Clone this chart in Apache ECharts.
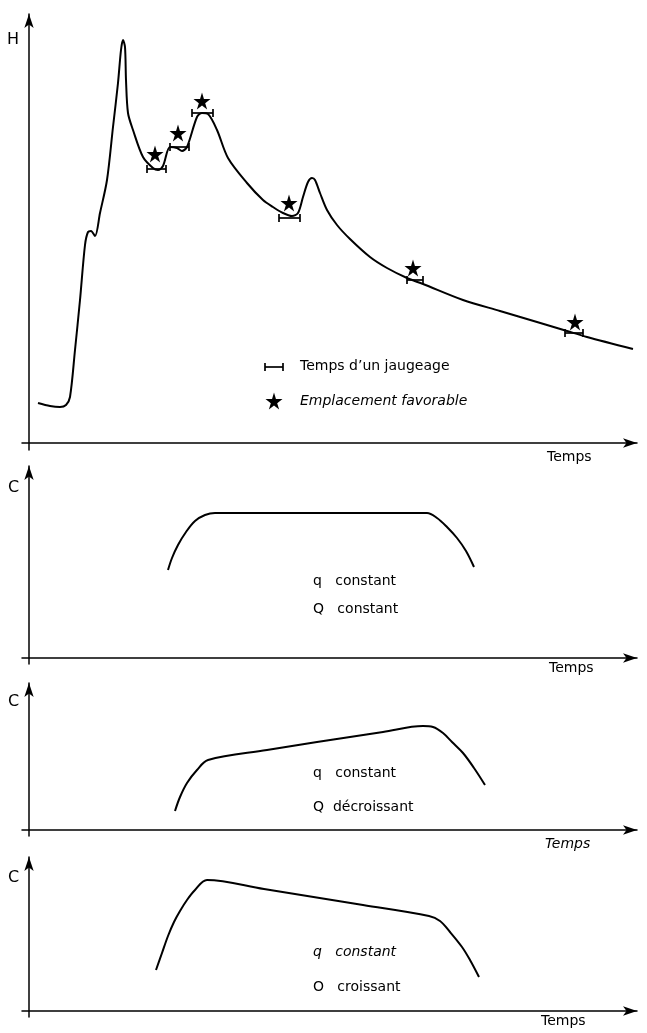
<!DOCTYPE html>
<html><head><meta charset="utf-8">
<script src="https://cdn.jsdelivr.net/npm/echarts@6/dist/echarts.min.js"></script>
<style>html,body{margin:0;padding:0;background:#fff}#c{width:647px;height:1033px}</style>
</head><body><div id="c"></div>
<script>
// ---- Panel 1 : hydrogramme H(t) ----
const hTime  = [9,21,31,37,41,46,51,56,59,62,66,71,78,84,89,92,94,96,97,99,104,114,124,129,134,141,148,153,158,168,173,179,188,199,218,234,244,254,263,269,274,279,283,286,291,298,308,321,341,358,378,394,434,471,508,538,558,604];
const hLevel = [40,37,36,38,46,93,143,198,211,212,207,230,263,316,360,393,403,396,363,330,313,286,275,273,277,296,295,292,296,326,330,329,313,285,260,243,236,230,227,230,246,261,265,263,250,233,218,204,186,175,165,159,143,132,121,112,106,94];
// emplacements favorables (étoiles)
const starTime  = [126,149,173,260,384,546];
const starLevel = [289,310,342,240,175,121];
// durée d'un jaugeage (début, fin, niveau)
const gaugeStart = [118,141,163,250,378,536];
const gaugeEnd   = [137,160,184,271,394,554];
const gaugeLevel = [274,296,330,225,163,110];
// légende
const legendGauge = [236,254,76];
const legendStar  = [245,42];

// ---- Panels 2-4 : concentration C(t) ----
const c1Time = [139,143,149,157,166,176,186,398,408,418,428,437,445];
const c1Conc = [88,100,113,126,137,143,145,145,140,131,120,107,91];
const c2Time = [146,151,158,168,179,238,288,354,394,404,414,423,434,445,456];
const c2Conc = [19,33,47,60,70,80,88,98,104,103,97,88,77,62,45];
const c3Time = [127,133,139,145,151,158,166,178,235,334,400,411,421,433,441,450];
const c3Conc = [41,58,75,89,100,111,121,131,122,106,95,90,79,64,51,34];

const axisNames = ['H','C','C','C'];
const timeName = 'Temps';
const panelNotes = [
  ['Temps d\u2019un jaugeage','Emplacement favorable'],
  ['q   constant','Q   constant'],
  ['q   constant','Q  d\u00e9croissant'],
  ['q   constant','O   croissant']
];

const zip = (a,b) => a.map((v,i)=>[v,b[i]]);
const INK = '#000';
const FONT = 'DejaVu Sans';

const grids = [
  {left:22, top:14,  width:615, height:436, yMax:429},
  {left:22, top:466, width:615, height:198, yMax:192},
  {left:22, top:683, width:615, height:153, yMax:147},
  {left:22, top:857, width:615, height:160, yMax:154}
];

const chart = echarts.init(document.getElementById('c'), null, {renderer:'canvas'});

const axisLine = {onZero:true, symbol:['none','arrow'], symbolSize:[7,14], lineStyle:{color:INK, width:1.5}};
const xAxes = grids.map((g,i)=>({gridIndex:i, type:'value', min:-7, max:608,
  axisLine, axisTick:{show:false}, axisLabel:{show:false}, splitLine:{show:false}}));
const yAxes = grids.map((g,i)=>({gridIndex:i, type:'value', min:(i===0?-7:-6), max:g.yMax,
  axisLine, axisTick:{show:false}, axisLabel:{show:false}, splitLine:{show:false}}));

const starPath = 'path://M50,0 L61,35 L98,35 L68,57 L79,91 L50,70 L21,91 L32,57 L2,35 L39,35 Z';

function bracketItem(params, api){
  const a = api.coord([api.value(0), api.value(2)]);
  const b = api.coord([api.value(1), api.value(2)]);
  const st = {stroke:INK, lineWidth:1.7};
  return {type:'group', children:[
    {type:'line', shape:{x1:a[0],y1:a[1],x2:b[0],y2:b[1]}, style:st},
    {type:'line', shape:{x1:a[0],y1:a[1]-4,x2:a[0],y2:a[1]+4}, style:st},
    {type:'line', shape:{x1:b[0],y1:b[1]-4,x2:b[0],y2:b[1]+4}, style:st}
  ]};
}

const lineBase = {type:'line', symbol:'none', silent:true, lineStyle:{color:INK, width:2}};
const starStyle = {color:INK, opacity:1};

const series = [
  Object.assign({}, lineBase, {xAxisIndex:0, yAxisIndex:0, smooth:0.3, data:zip(hTime,hLevel)}),
  {type:'scatter', xAxisIndex:0, yAxisIndex:0, symbol:starPath, symbolSize:17,
   itemStyle:starStyle, data:zip(starTime,starLevel), z:5},
  {type:'custom', xAxisIndex:0, yAxisIndex:0, renderItem:bracketItem,
   data:gaugeStart.map((s,i)=>[s,gaugeEnd[i],gaugeLevel[i]]), z:4},
  {type:'custom', xAxisIndex:0, yAxisIndex:0, renderItem:bracketItem, data:[legendGauge]},
  {type:'scatter', xAxisIndex:0, yAxisIndex:0, symbol:starPath, symbolSize:17,
   itemStyle:starStyle, data:[legendStar]},
  Object.assign({}, lineBase, {xAxisIndex:1, yAxisIndex:1, smooth:0.35, data:zip(c1Time,c1Conc)}),
  Object.assign({}, lineBase, {xAxisIndex:2, yAxisIndex:2, smooth:0.35, data:zip(c2Time,c2Conc)}),
  Object.assign({}, lineBase, {xAxisIndex:3, yAxisIndex:3, smooth:0.35, data:zip(c3Time,c3Conc)})
];

// text layout (pixel positions of the annotations)
const nameLayout = [
  {ax:[13,40],  tx:[547,457], ty:'normal'},
  {ax:[14,488], tx:[549,668], ty:'normal'},
  {ax:[14,702], tx:[545,844], ty:'italic'},
  {ax:[14,878], tx:[541,1021], ty:'normal'}
];
const noteLayout = [
  {x:300, y:[366,401], style:['normal','italic']},
  {x:313, y:[581,609], style:['normal','normal']},
  {x:313, y:[773,807], style:['normal','normal']},
  {x:313, y:[952,987], style:['italic','normal']}
];

const graphic = [];
const txt = (s,x,y,size,style) => ({type:'text', x, y, silent:true,
  style:{text:s, fill:INK, font:(style==='italic'?'italic ':'')+size+'px "'+FONT+'"', verticalAlign:'middle', align:'left'}});
nameLayout.forEach((L,i)=>{
  graphic.push(txt(axisNames[i], L.ax[0]-6, L.ax[1], 16, 'normal'));
  graphic.push(txt(timeName, L.tx[0], L.tx[1], 14, L.ty));
});
noteLayout.forEach((L,i)=>{
  panelNotes[i].forEach((s,j)=> graphic.push(txt(s, L.x, L.y[j], 14, L.style[j])));
});

chart.setOption({
  animation:false,
  backgroundColor:'#fff',
  grid: grids.map(g=>({left:g.left, top:g.top, width:g.width, height:g.height, containLabel:false})),
  xAxis: xAxes,
  yAxis: yAxes,
  series,
  graphic
});
</script></body></html>
